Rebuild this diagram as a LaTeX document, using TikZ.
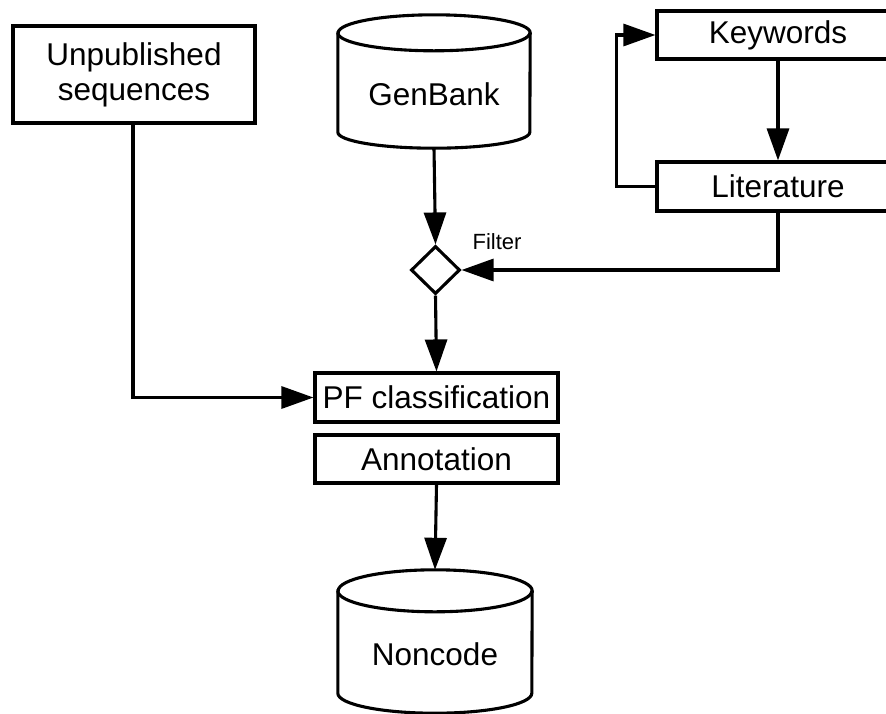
\documentclass[tikz,border=0pt]{standalone}
\usepackage{fontspec}
\setmainfont{Liberation Sans}
\usetikzlibrary{shapes.geometric,arrows.meta}
\tikzset{
  boxnode/.style={draw, line width=3.1pt, rectangle, inner sep=0pt,
    minimum width=243pt, font=\fontsize{31.5}{35}\selectfont},
  dbnode/.style={inner sep=0pt, font=\fontsize{31.5}{35}\selectfont},
  cylline/.style={line width=3.1pt},
  conn/.style={line width=3.1pt, -{Triangle[length=32pt,width=22pt]}},
  decision/.style={draw, diamond, line width=3.1pt, inner sep=0pt,
    minimum width=49pt, minimum height=48pt},
  smalllabel/.style={font=\fontsize{22}{24}\selectfont, inner sep=0pt}
}
\newcommand\drawcyl[4]{% #1 name, #2 half width, #3 ry top, #4 ry bottom
  \draw[cylline, fill=white] ([yshift=-#3 pt]#1.north west)
     -- ([yshift=#4 pt]#1.south west)
     arc[start angle=180, end angle=360, x radius=#2 pt, y radius=#4 pt]
     -- ([yshift=-#3 pt]#1.north east)
     arc[start angle=0, end angle=180, x radius=#2 pt, y radius=#3 pt]
     -- cycle;
  \draw[cylline] ([yshift=-#3 pt]#1.north west)
     arc[start angle=180, end angle=360, x radius=#2 pt, y radius=#3 pt];
}
\begin{document}
\begin{tikzpicture}[x=1pt,y=-1pt]
\useasboundingbox (0,0) rectangle (886,713);
\clip (0,0) rectangle (886,713);
\fill[white] (0,0) rectangle (886,713);

% database nodes (invisible anchors) and their cylinder outlines
\node[dbnode, minimum width=192pt, minimum height=133pt] (gb) at (434,81.5) {};
\drawcyl{gb}{96}{18}{16}
\node[dbnode] (gbt) at (434,94) {GenBank};

\node[dbnode, minimum width=194pt, minimum height=143pt] (nc) at (435,641.5) {};
\drawcyl{nc}{97}{21}{20}
\node[dbnode] (nct) at (435,654) {Noncode};

% boxes
\node[boxnode, minimum width=242pt, minimum height=97pt, align=center] (unp) at (134,74.5) {Unpublished\\sequences};
\node[boxnode, minimum width=242pt, minimum height=48pt] (kw) at (778,35) {Keywords};
\node[boxnode, minimum width=242pt, minimum height=49pt] (lit) at (778,186.5) {Literature};
\node[boxnode, minimum height=49pt] (pf) at (436.5,397.5) {PF classification};
\node[boxnode, minimum height=48pt] (ann) at (436.5,459) {Annotation};

% filter
\node[decision] (filt) at (435.5,270) {};
\node[smalllabel] (filtlab) at (497,242) {Filter};

% connectors
\draw[conn] (gb.south) -- (filt.north);
\draw[conn] (filt.south) -- (pf.north);
\draw[conn] (lit.south) |- (filt.east);
\draw[conn] (kw.south) -- (lit.north);
\draw[conn] (lit.west) -- ++(-39,0) |- (kw.west);
\draw[conn] (unp.south) ++(-1,0) coordinate (unpd) (unpd) |- (pf.west);
\draw[conn] (ann.south) -- (nc.north);
\end{tikzpicture}
\end{document}
